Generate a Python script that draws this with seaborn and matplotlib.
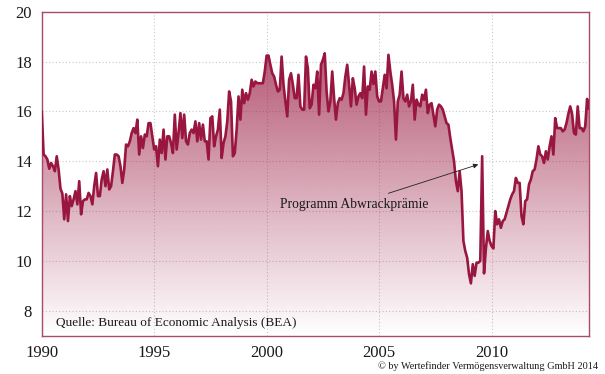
import numpy as np
import pandas as pd
import seaborn as sns
import matplotlib
matplotlib.use("Agg")
import matplotlib.pyplot as plt
from matplotlib.patches import PathPatch
from matplotlib.ticker import MultipleLocator

# ---- data: monthly US vehicle sales (Mio., annualised), Jan 1990 - May 2014 ----
start_year = 1990
sales_1990_1994 = [
    16.0, 14.27, 14.2, 14.07, 13.7, 13.93, 13.8, 13.6, 14.2, 13.67, 12.9, 12.7,
    11.67, 12.67, 11.6, 12.6, 12.2, 12.47, 12.8, 12.27, 13.2, 11.87, 12.4, 12.47,
    12.47, 12.73, 12.6, 12.27, 13.0, 13.53, 12.6, 12.6, 13.27, 13.6, 13.0, 13.67,
    12.87, 13.0, 13.6, 14.27, 14.27, 14.2, 13.8, 13.13, 13.67, 14.67, 14.6, 14.8,
    15.13, 15.33, 15.13, 15.67, 14.27, 15.0, 14.53, 15.07, 15.0, 15.53, 15.53, 15.0,
]
sales_1995_1999 = [
    14.47, 14.6, 13.8, 14.87, 14.33, 15.27, 14.07, 15.0, 15.0, 14.73, 14.33, 15.87,
    14.47, 15.13, 15.93, 14.93, 15.87, 14.8, 14.67, 15.13, 15.27, 15.13, 15.6, 14.8,
    15.53, 14.87, 15.47, 14.8, 14.8, 14.07, 15.73, 15.8, 14.6, 15.0, 15.27, 16.07,
    14.13, 14.73, 15.0, 15.6, 16.8, 16.4, 14.2, 14.33, 15.27, 16.6, 15.67, 16.87,
    16.33, 16.73, 16.47, 16.73, 17.27, 17.0, 17.2, 17.13, 17.13, 17.13, 17.13, 17.6,
]
sales_2000_2004 = [
    18.24, 18.24, 17.87, 17.53, 17.4, 17.07, 16.8, 16.87, 18.2, 17.07, 16.4, 15.8,
    17.27, 17.53, 17.07, 16.53, 16.53, 17.47, 16.2, 16.07, 16.07, 18.2, 17.73, 16.13,
    16.27, 17.07, 16.93, 17.6, 15.87, 17.87, 18.07, 18.33, 16.8, 16.0, 16.4, 17.6,
    16.53, 15.67, 16.33, 16.53, 16.47, 16.73, 17.4, 17.87, 17.07, 16.2, 17.33, 16.93,
    16.27, 16.6, 16.73, 16.53, 17.8, 15.87, 17.0, 16.87, 17.6, 17.1, 17.6, 16.6,
]
sales_2005_2009 = [
    16.4, 16.4, 16.93, 17.47, 16.93, 18.27, 17.6, 17.07, 16.4, 14.87, 16.4, 16.67,
    17.6, 16.53, 16.4, 16.67, 16.2, 16.4, 17.07, 15.67, 16.47, 16.27, 16.2, 16.67,
    16.47, 16.87, 15.93, 16.27, 16.33, 15.87, 15.4, 16.07, 16.27, 16.2, 16.07, 15.8,
    15.53, 15.47, 14.93, 14.47, 14.0, 13.2, 12.8, 13.6, 12.8, 10.8, 10.4, 10.13,
    9.47, 9.1, 9.87, 9.4, 9.93, 9.93, 10.0, 14.2, 9.5, 10.5, 11.2, 10.8,
]
sales_2010_2014 = [
    10.6, 10.5, 12.0, 11.47, 11.67, 11.33, 11.6, 11.67, 11.93, 12.2, 12.47, 12.67,
    12.8, 13.33, 13.13, 13.13, 11.8, 11.47, 12.4, 12.47, 13.07, 13.27, 13.6, 13.67,
    14.07, 14.6, 14.27, 14.2, 13.93, 14.4, 14.07, 14.6, 15.0, 14.27, 15.73, 15.33,
    15.33, 15.33, 15.2, 15.27, 15.53, 15.9, 16.2, 15.9, 15.13, 15.07, 16.2, 15.33,
    15.33, 15.2, 15.4, 16.5, 16.1,
]
year_ticks = [1990, 1995, 2000, 2005, 2010]
value_ticks = [8, 10, 12, 14, 16, 18, 20]
annotation_text = "Programm Abwrackprämie"
source_text = "Quelle: Bureau of Economic Analysis (BEA)"
copyright_text = "© by Wertefinder Vermögensverwaltung GmbH 2014"

values = sales_1990_1994 + sales_1995_1999 + sales_2000_2004 + sales_2005_2009 + sales_2010_2014
df = pd.DataFrame({"year": start_year + np.arange(len(values)) / 12.0,
                   "sales": values})

# ---- style ----
sns.set_style("white")
plt.rcParams["font.family"] = ["Liberation Serif", "DejaVu Serif"]

line_col = "#98163f"
spine_col = "#a84a6c"
text_col = "#1a1a1a"

fig = plt.figure(figsize=(6.05, 3.74), dpi=100)
ax = fig.add_axes([0.069, 0.1024, 0.9045, 0.8663])

ymin, ymax = 7, 20
xmin, xmax = 1990, 2014 + 4 / 12

# gradient fill under the line
poly = ax.fill_between(df["year"], df["sales"], ymin, color="none", lw=0)
path = poly.get_paths()[0]
clip = PathPatch(path, facecolor="none", edgecolor="none", transform=ax.transData)
ax.add_patch(clip)
g_top = 18.5
alpha = np.linspace(0.0, 0.72, 256)
rgb = np.array(matplotlib.colors.to_rgb(line_col))
img = np.zeros((256, 2, 4))
img[:, :, :3] = rgb
img[:, :, 3] = alpha[:, None]
im = ax.imshow(img, extent=[xmin, xmax, ymin, g_top], origin="lower",
               aspect="auto", zorder=1, interpolation="bilinear")
im.set_clip_path(clip)

sns.lineplot(data=df, x="year", y="sales", ax=ax, color=line_col, lw=1.9,
             zorder=3, legend=False)

ax.set_xlim(xmin, xmax)
ax.set_ylim(ymin, ymax)
ax.set_xlabel("")
ax.set_ylabel("")
ax.set_xticks(year_ticks)
ax.set_yticks(value_ticks)
ax.xaxis.set_minor_locator(MultipleLocator(1))
ax.yaxis.set_minor_locator(MultipleLocator(1))
ax.set_axisbelow(True)
ax.grid(True, which="major", color="#c8c8c8", linestyle=(0, (1, 2)), lw=0.8)

for s in ax.spines.values():
    s.set_color(spine_col)
    s.set_linewidth(1.0)
    s.set_visible(True)

ax.tick_params(axis="both", which="both", direction="out", color=spine_col,
               width=1.0, labelcolor=text_col, labelsize=12)
ax.tick_params(axis="both", which="major", length=3.5)
ax.tick_params(axis="both", which="minor", length=2.5)
ax.tick_params(axis="y", which="major", pad=3.5)
ax.tick_params(axis="x", which="major", pad=3.5)

ax.annotate(annotation_text, xy=(2009.41, 13.87), xytext=(2007.18, 12.27),
            ha="right", va="center", fontsize=9.8, color=text_col,
            arrowprops=dict(arrowstyle="-|>", color="#222222", lw=0.6,
                            shrinkA=3, shrinkB=0, mutation_scale=7),
            zorder=5)

ax.text(0.026, 0.022, source_text, transform=ax.transAxes, ha="left",
        va="bottom", fontsize=9.5, color=text_col, zorder=5)

fig.text(598 / 605, 1 - 366 / 374, copyright_text, ha="right", va="center",
         fontsize=7.4, color=text_col)

fig.savefig("out.png", dpi=100)
